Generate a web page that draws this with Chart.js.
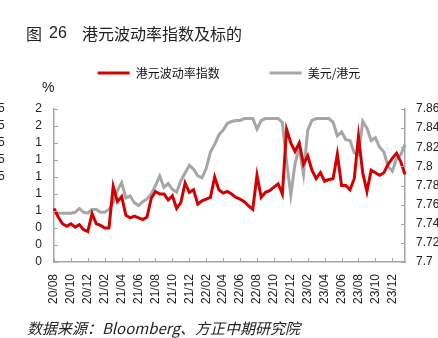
<!DOCTYPE html>
<html>
<head>
<meta charset="utf-8">
<script src="https://cdn.jsdelivr.net/npm/chart.js@4/dist/chart.umd.min.js"></script>
<style>
    body { margin: 0; background: #fff; }
    #wrap { position: relative; width: 438px; height: 338px; overflow: hidden; color: #222;
        font-family: "Noto Sans CJK SC", "Liberation Sans", sans-serif; }
    #c { position: absolute; left: 0; top: 0; }
    .t { position: absolute; white-space: nowrap; line-height: 1; }
    .n { font-family: "Liberation Sans", Arial, sans-serif; font-size: 12px; }
</style>
</head>
<body>
<div id="wrap">
    <canvas id="c" width="438" height="338"></canvas>
    <div class="t" style="left:26px;top:25px;font-size:16px">图</div>
    <div class="t" style="left:49px;top:25px;font-size:16px;font-family:'Liberation Sans',sans-serif">26</div>
    <div class="t" style="left:82px;top:25px;font-size:16px">港元波动率指数及标的</div>
    <div class="t" style="left:42px;top:80px;font-size:14px;font-family:'Liberation Sans',sans-serif">%</div>
    <!-- cut off labels of the neighbouring chart -->
    <div class="t n" style="left:-2px;top:102px">5</div>
    <div class="t n" style="left:-2px;top:119px">5</div>
    <div class="t n" style="left:-2px;top:136px">5</div>
    <div class="t n" style="left:-2px;top:153px">5</div>
    <div class="t n" style="left:-2px;top:170px">5</div>
    <div class="t" style="left:27px;top:320px;font-size:15px;font-style:italic">数据来源：Bloomberg、方正中期研究院</div>
</div>
<script>
// half-month dates, 2020-08 .. 2024-01
const dates = [
    '2020-08-01', '2020-08-16', '2020-09-01', '2020-09-16', '2020-10-01', '2020-10-16', '2020-11-01', '2020-11-16', '2020-12-01', '2020-12-16',
    '2021-01-01', '2021-01-16', '2021-02-01', '2021-02-16', '2021-03-01', '2021-03-16', '2021-04-01', '2021-04-16', '2021-05-01', '2021-05-16',
    '2021-06-01', '2021-06-16', '2021-07-01', '2021-07-16', '2021-08-01', '2021-08-16', '2021-09-01', '2021-09-16', '2021-10-01', '2021-10-16',
    '2021-11-01', '2021-11-16', '2021-12-01', '2021-12-16', '2022-01-01', '2022-01-16', '2022-02-01', '2022-02-16', '2022-03-01', '2022-03-16',
    '2022-04-01', '2022-04-16', '2022-05-01', '2022-05-16', '2022-06-01', '2022-06-16', '2022-07-01', '2022-07-16', '2022-08-01', '2022-08-16',
    '2022-09-01', '2022-09-16', '2022-10-01', '2022-10-16', '2022-11-01', '2022-11-16', '2022-12-01', '2022-12-16', '2023-01-01', '2023-01-16',
    '2023-02-01', '2023-02-16', '2023-03-01', '2023-03-16', '2023-04-01', '2023-04-16', '2023-05-01', '2023-05-16', '2023-06-01', '2023-06-16',
    '2023-07-01', '2023-07-16', '2023-08-01', '2023-08-16', '2023-09-01', '2023-09-16', '2023-10-01', '2023-10-16', '2023-11-01', '2023-11-16',
    '2023-12-01', '2023-12-16', '2024-01-01', '2024-01-16'
];

// 港元波动率指数 (%), left axis
const hkdVol = [
    0.63, 0.53, 0.45, 0.42, 0.45, 0.41, 0.44, 0.38, 0.36, 0.57,
    0.45, 0.43, 0.40, 0.40, 0.89, 0.71, 0.77, 0.55, 0.52, 0.54,
    0.52, 0.50, 0.53, 0.75, 0.83, 0.80, 0.80, 0.73, 0.78, 0.63,
    0.70, 0.93, 0.82, 0.85, 0.68, 0.72, 0.74, 0.76, 1.00, 0.85,
    0.81, 0.83, 0.80, 0.76, 0.74, 0.71, 0.66, 0.62, 1.02, 0.76,
    0.82, 0.84, 0.88, 0.92, 0.80, 1.56, 1.40, 1.30, 1.40, 1.15,
    1.25, 1.08, 0.98, 1.05, 0.95, 0.97, 0.98, 1.27, 0.90, 0.90,
    0.85, 0.98, 1.48, 1.05, 0.83, 1.08, 1.05, 1.02, 1.05, 1.15,
    1.22, 1.28, 1.18, 1.03
];

// 美元/港元, right axis
const usdHkd = [
    7.751, 7.751, 7.751, 7.751, 7.751, 7.752, 7.756, 7.752, 7.751, 7.755,
    7.755, 7.752, 7.752, 7.755, 7.762, 7.775, 7.783, 7.767, 7.769, 7.762,
    7.759, 7.763, 7.766, 7.771, 7.780, 7.790, 7.778, 7.782, 7.776, 7.773,
    7.785, 7.793, 7.801, 7.797, 7.790, 7.788, 7.798, 7.815, 7.823, 7.833,
    7.838, 7.845, 7.847, 7.848, 7.848, 7.850, 7.850, 7.850, 7.839, 7.848,
    7.850, 7.850, 7.850, 7.850, 7.846, 7.805, 7.770, 7.803, 7.820, 7.792,
    7.838, 7.848, 7.850, 7.850, 7.850, 7.850, 7.846, 7.832, 7.836, 7.828,
    7.827, 7.814, 7.812, 7.847, 7.840, 7.827, 7.830, 7.820, 7.815, 7.800,
    7.795, 7.808, 7.812, 7.823
];

const axisColor = '#a6a6a6';
const numFont = 'Liberation Sans';

function monthLabel(i) {
    const d = dates[i];
    if (d.slice(8) === '01' && (+d.slice(5, 7)) % 2 === 0) {
        return d.slice(2, 4) + '/' + d.slice(5, 7);
    }
    return null;
}

// small tick marks pointing into the plot
const innerTicks = {
    id: 'innerTicks',
    afterDraw(chart) {
        const ctx = chart.ctx;
        const a = chart.chartArea;
        ctx.save();
        ctx.strokeStyle = axisColor;
        ctx.lineWidth = 1;
        ctx.beginPath();
        chart.scales.y.ticks.forEach(t => {
            const py = Math.round(chart.scales.y.getPixelForValue(t.value)) + 0.5;
            ctx.moveTo(a.left, py);
            ctx.lineTo(a.left + 4, py);
        });
        chart.scales.y1.ticks.forEach(t => {
            const py = Math.round(chart.scales.y1.getPixelForValue(t.value)) + 0.5;
            ctx.moveTo(a.right - 4, py);
            ctx.lineTo(a.right, py);
        });
        for (let i = 0; i < dates.length; i++) {
            if (monthLabel(i) === null) continue;
            const px = Math.round(chart.scales.x.getPixelForValue(i)) + 0.5;
            ctx.moveTo(px, a.bottom);
            ctx.lineTo(px, a.bottom - 4);
        }
        ctx.stroke();
        ctx.restore();
    }
};

// leave a gap between the legend and the plot (room for the "%" label)
const legendGap = {
    id: 'legendGap',
    afterInit(chart) {
        const fit = chart.legend.fit;
        chart.legend.fit = function () {
            fit.call(this);
            this.height += 20;
        };
    }
};

const chart = new Chart(document.getElementById('c'), {
    type: 'line',
    data: {
        labels: dates,
        datasets: [
            {
                label: '港元波动率指数',
                data: hkdVol,
                yAxisID: 'y',
                borderColor: '#d20000',
                backgroundColor: '#d20000',
                borderWidth: 3,
                pointRadius: 0,
                tension: 0
            },
            {
                label: '美元/港元',
                data: usdHkd,
                yAxisID: 'y1',
                borderColor: '#a6a6a6',
                backgroundColor: '#a6a6a6',
                borderWidth: 3,
                pointRadius: 0,
                tension: 0
            }
        ]
    },
    options: {
        responsive: false,
        animation: false,
        devicePixelRatio: 1,
        layout: { padding: { left: 20, right: 0, top: 17, bottom: 28 } },
        plugins: {
            legend: {
                labels: {
                    usePointStyle: true,
                    pointStyle: 'line',
                    pointStyleWidth: 32,
                    padding: 50,
                    color: '#111',
                    font: { size: 12, family: '"Noto Sans CJK SC", sans-serif' }
                }
            },
            tooltip: { enabled: false }
        },
        scales: {
            x: {
                ticks: {
                    autoSkip: false,
                    maxRotation: 90,
                    minRotation: 90,
                    padding: 12,
                    color: '#222',
                    font: { size: 12, family: numFont },
                    callback: (v, i) => monthLabel(i)
                },
                grid: { drawOnChartArea: false, tickLength: 0 },
                border: { color: axisColor, width: 1.5 },
                afterFit: s => { s.height = 48; }
            },
            y: {
                position: 'left',
                min: 0,
                max: 1.8,
                ticks: {
                    stepSize: 0.2,
                    autoSkip: false,
                    padding: 12,
                    color: '#222',
                    font: { size: 12, family: numFont },
                    callback: v => Math.round(v)
                },
                grid: { drawOnChartArea: false, tickLength: 0 },
                border: { color: axisColor, width: 1.5 },
                afterFit: s => { s.width = 34; }
            },
            y1: {
                position: 'right',
                min: 7.7,
                max: 7.86,
                ticks: {
                    stepSize: 0.02,
                    autoSkip: false,
                    padding: 11,
                    color: '#222',
                    font: { size: 12, family: numFont },
                    callback: v => String(+v.toFixed(2))
                },
                grid: { drawOnChartArea: false, tickLength: 0 },
                border: { color: axisColor, width: 1.5 },
                afterFit: s => { s.width = 33; }
            }
        }
    },
    plugins: [innerTicks, legendGap]
});
</script>
</body>
</html>
